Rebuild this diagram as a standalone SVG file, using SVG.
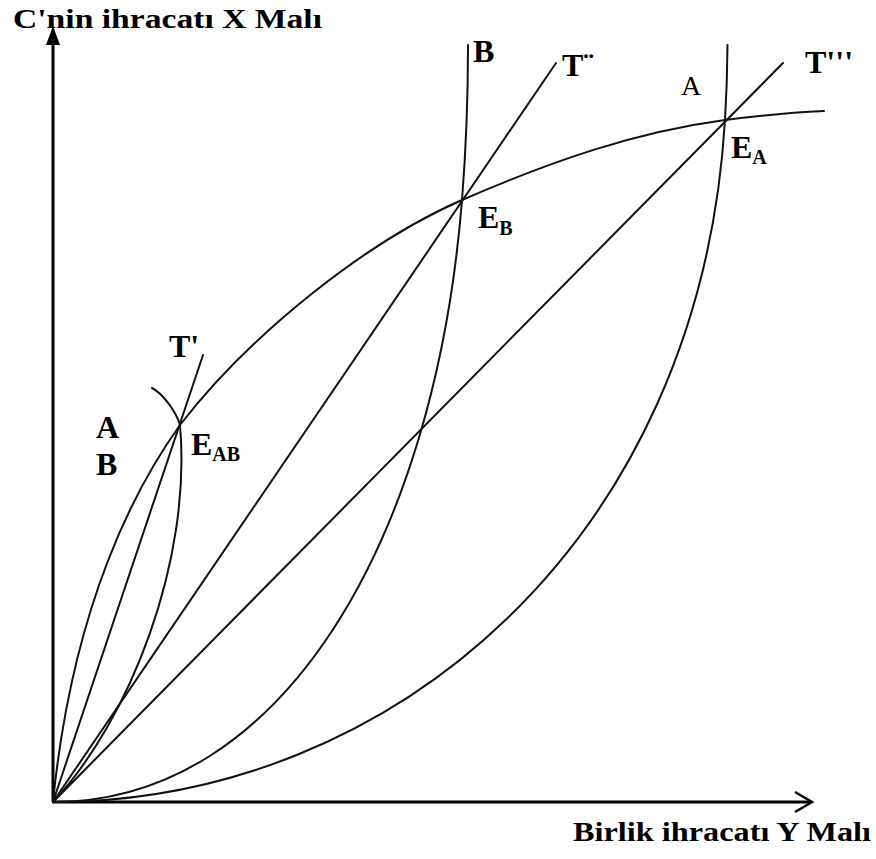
<svg xmlns="http://www.w3.org/2000/svg" width="876" height="859" viewBox="0 0 876 859">
<style>
.ax{stroke:#000;stroke-width:3;fill:none}
.cv{stroke:#111;stroke-width:2;fill:none;stroke-linecap:round}
.lb{font-family:"Liberation Serif","Times New Roman",serif;font-weight:bold;font-size:32px;fill:#000}
.sb{font-size:20px}
.rg{font-family:"Liberation Serif","Times New Roman",serif;font-size:28px;fill:#000}
.tt{font-family:"Liberation Serif","Times New Roman",serif;font-weight:bold;font-size:27px;fill:#000}
</style>
<rect width="876" height="859" fill="#fff"/>
<g id="axes">
<line class="ax" x1="53" y1="802" x2="53" y2="40"/>
<polygon points="53,26 46,45 60,45" fill="#000"/>
<line class="ax" x1="52" y1="802" x2="811" y2="802"/>
<polyline points="795,792 812,802 795,812" fill="none" stroke="#000" stroke-width="2.5"/>
</g>
<g id="connectors">
<line id="T1" class="cv" x1="53" y1="802" x2="203" y2="355"/>
<line id="T2" class="cv" x1="53" y1="802" x2="556" y2="63"/>
<line id="T3" class="cv" x1="53" y1="802" x2="783" y2="63"/>
<path id="curveC" class="cv" d="M53,802 C73,602 137,485 180,425 C252,332 368,241 462,200 C552,161 635,132 725,120 C758,115.7 791,112.5 824,111"/>
<path id="curveAB" class="cv" d="M152,388 C162,393 176,411 180,425 M180,425 C192,560 130,720 53,802"/>
<path id="curveB" class="cv" d="M53,802 C283,802 435,540 462,200 C465.2,160 468,100 468,45"/>
<path id="curveA" class="cv" d="M53,802 C393,802 700,540 725,120 C726.5,95 727.3,70 727.5,45"/>
</g>
<g id="labels">
<text id="title-y" class="tt" x="13" y="28" textLength="309" lengthAdjust="spacingAndGlyphs">C'nin ihracatı X Malı</text>
<text id="title-x" class="tt" x="573" y="841" textLength="298" lengthAdjust="spacingAndGlyphs">Birlik ihracatı Y Malı</text>
<text id="lbl-B" class="lb" x="473" y="62">B</text>
<text id="lbl-T2" class="lb" x="562" y="76">T¨</text>
<text id="lbl-A" class="rg" x="681" y="95">A</text>
<text id="lbl-T3" class="lb" x="805" y="73">T'''</text>
<text id="lbl-EA" class="lb" x="731" y="158">E<tspan class="sb" dy="6">A</tspan></text>
<text id="lbl-EB" class="lb" x="478" y="228">E<tspan class="sb" dy="7">B</tspan></text>
<text id="lbl-T1" class="lb" x="169" y="357">T'</text>
<text id="lbl-A2" class="lb" x="96" y="438">A</text>
<text id="lbl-B2" class="lb" x="96" y="475">B</text>
<text id="lbl-EAB" class="lb" x="191" y="455">E<tspan class="sb" dy="6">AB</tspan></text>
</g>
</svg>
